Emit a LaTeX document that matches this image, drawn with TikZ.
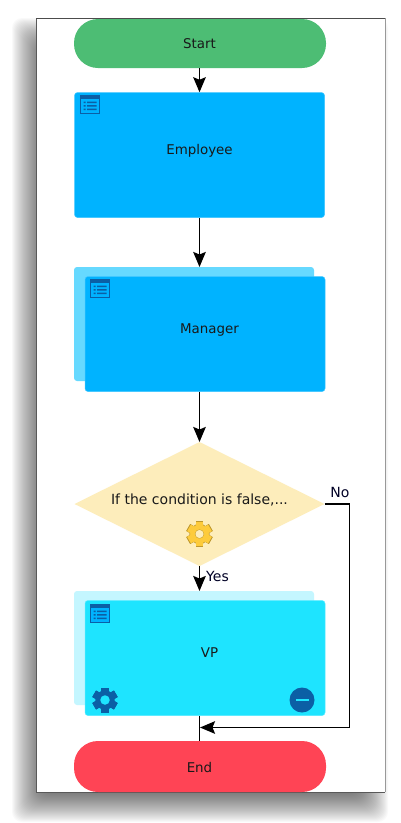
\documentclass[tikz,border=0pt]{standalone}
\usepackage{fontspec}
\setmainfont{DejaVu Sans}
\usetikzlibrary{arrows.meta}
\definecolor{startc}{HTML}{4DBD74}
\definecolor{bluec}{HTML}{00B3FF}
\definecolor{blueb}{HTML}{66D9FF}
\definecolor{cyanc}{HTML}{1EE4FF}
\definecolor{cyanb}{HTML}{C4F6FF}
\definecolor{diac}{HTML}{FDEDBB}
\definecolor{endc}{HTML}{FF4455}
\definecolor{iconc}{HTML}{0B5FA5}
\definecolor{gearc}{HTML}{FDCB3C}
\tikzset{
 txt/.style={inner sep=0pt,font=\fontsize{13.4}{15}\selectfont,text=black!90},
 pill/.style={rounded corners=24pt,inner sep=0pt},
 task/.style={rounded corners=3pt,inner sep=0pt},
 flow/.style={line width=1.9pt,black},
 tip/.style={-{Stealth[length=15pt,width=12.5pt,inset=2.5pt]}},
 lab/.style={font=\fontsize{14}{16}\selectfont,inner sep=0pt,text=black!85!blue},
}
\newcommand{\listicon}[2]{%
 \fill[#2] (#1) rectangle ++(20,19);
 \begin{scope}[shift={(#1)}]
  \fill[bluec] (1,3.5) rectangle (19,18);
  \fill[#2] (3.5,6.5) rectangle (5.5,8) (3.5,10) rectangle (5.5,11.5) (3.5,13.5) rectangle (5.5,15);
  \fill[#2] (7,6.5) rectangle (16.5,8) (7,10) rectangle (16.5,11.5) (7,13.5) rectangle (16.5,15);
 \end{scope}}
\newcommand{\gearicon}[4]{% center, radius, fill, hole
 \begin{scope}[shift={(#1)},scale=#2]
  \foreach \a in {0,60,...,300}
   \fill[#3,rotate=\a] (-.3,-1) rectangle (.3,1);
  \fill[#3] (0,0) circle (.78);
  \fill[#4] (0,0) circle (.38);
 \end{scope}}
\begin{document}
\begin{tikzpicture}[x=1pt,y=-1pt]
\useasboundingbox (0,0) rectangle (400,823);
% shadow
\foreach \i in {0,1,...,29}
 \fill[black,opacity=.025,rounded corners=10pt]
  (12+\i,18+\i) rectangle (388-\i,822-\i);
% window
\fill[white] (36,18) rectangle (385,792);
\draw[black!65,line width=.9pt] (36,792) -- (36,18);
\draw[black!40,line width=.9pt] (385,18) -- (385,792);
\draw[black!65,line width=.9pt] (36,792) -- (385,792);
\draw[black!70,line width=.9pt] (36,18) -- (385,18);
% back pages
\fill[blueb,rounded corners=3pt] (74,267) rectangle (314,381);
\fill[cyanb,rounded corners=3pt] (74,591) rectangle (314,705);
% nodes
\node[pill,fill=startc,minimum width=252pt,minimum height=49pt] (start) at (200,43.5) {};
\node[txt] (startl) at (199.5,44) {Start};
\node[task,fill=bluec,draw=bluec!75!white,line width=.5pt,minimum width=250pt,minimum height=125pt] (emp) at (199.5,155) {};
\node[txt] (empl) at (199.5,150.5) {Employee};
\node[task,fill=bluec,draw=bluec!75!white,line width=.5pt,minimum width=240pt,minimum height=115pt] (mgr) at (205,334) {};
\node[txt] (mgrl) at (209.5,330) {Manager};
\fill[diac] (74.5,504) -- (199.5,442) -- (324.5,504) -- (199.5,566) -- cycle;
\coordinate (dtop) at (199.5,442);
\coordinate (dbot) at (199.5,566);
\coordinate (dright) at (324.5,504);
\node[txt,font=\fontsize{14}{16}\selectfont] (dia) at (199.5,499.5) {If the condition is false,...};
\node[task,fill=cyanc,draw=cyanc!75!white,line width=.5pt,minimum width=240pt,minimum height=115pt] (vp) at (205,658) {};
\node[txt] (vpl) at (209.5,653) {VP};
\node[pill,fill=endc,minimum width=252pt,minimum height=51pt] (end) at (200,766.5) {};
\node[txt] (endl) at (199.5,767) {End};
% icons
\listicon{80,95}{iconc}
\listicon{90,279}{iconc}
\listicon{90,604}{iconc}
\gearicon{199.5,534}{13}{gearc!75!black}{gearc!75!black}
\gearicon{199.5,534}{12}{gearc}{gearc!75!black}
\fill[diac] (199.5,534) circle (4.1);
\gearicon{105,700}{12.5}{iconc}{cyanc}
\fill[iconc] (302,700) circle (12.5);
\fill[cyanc] (295.5,698.7) rectangle (308.5,701.3);
% connectors
\coordinate (j) at (200,727.5);
\coordinate (c) at (349.5,504);
\coordinate (c2) at (349.5,727.5);
\coordinate (mt) at (199.5,267);
\coordinate (vt) at (199.5,591);
\draw[flow,tip] (start.south -| dtop) -- (emp.north -| dtop);
\draw[flow,tip] (emp.south -| dtop) -- (mt);
\draw[flow,tip] (mgr.south -| dtop) -- (dtop);
\draw[flow,tip] (dbot) -- (vt);
\draw[flow,line width=1.4pt] (vp.south -| dtop) -- (end.north -| dtop);
\draw[flow,tip] (dright) -- (c) -- (c2) -- (j);
\node[lab,anchor=west] (yes) at (206,576) {Yes};
\node[lab] (no) at (340,492.5) {No};
\end{tikzpicture}
\end{document}
